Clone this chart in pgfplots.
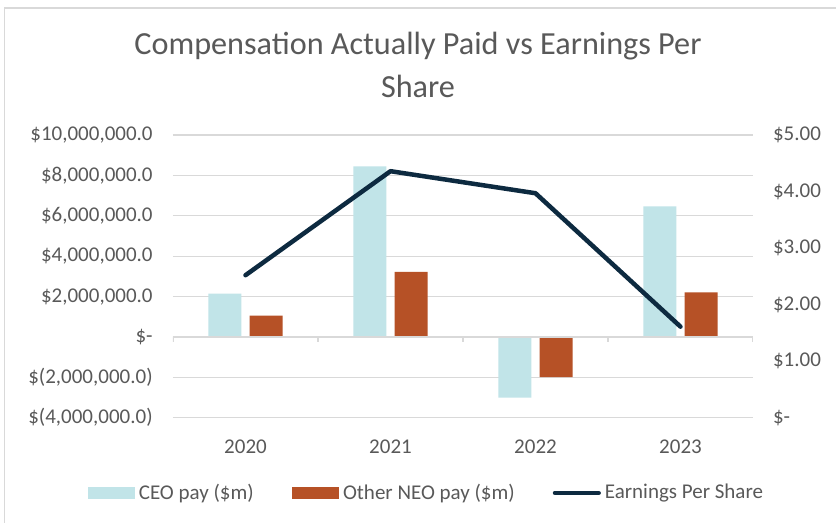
\documentclass[border=0pt]{standalone}
\usepackage{pgfplots}
\pgfplotsset{compat=1.18}
\usepackage{fontspec}
\setmainfont{Carlito}
\definecolor{ceo}{HTML}{C1E4E8}
\definecolor{neo}{HTML}{B65126}
\definecolor{eps}{HTML}{0D2A40}
\definecolor{gridc}{HTML}{D9D9D9}
\definecolor{txt}{HTML}{595959}
\begin{document}
\begin{tikzpicture}
\useasboundingbox (0pt,0pt) rectangle (418pt,-261.5pt);
\fill[white] (0pt,0pt) rectangle (418pt,-261.5pt);
\draw[gridc, line width=0.6pt] (2.25pt,-261.5pt) -- (2.25pt,-4pt) -- (418pt,-4pt);
\node[text=txt, align=center, font=\fontsize{16.1}{21.5}\selectfont] at (209pt,-32.5pt)
  {Compensation Actually Paid vs Earnings Per\\Share};
\begin{axis}[
  at={(86.5pt,-208.85pt)}, anchor=south west,
  scale only axis, width=290pt, height=141.35pt,
  xmin=-0.5, xmax=3.5, ymin=-4000000, ymax=10000000,
  xtick={0,1,2,3}, xticklabels={2020,2021,2022,2023},
  ytick={-4000000,-2000000,0,2000000,4000000,6000000,8000000,10000000},
  yticklabels={{\$(4,000,000.0)},{\$(2,000,000.0)},{\$-},{\$2,000,000.0},{\$4,000,000.0},{\$6,000,000.0},{\$8,000,000.0},{\$10,000,000.0}},
  scaled y ticks=false,
  /pgf/number format/assume math mode=true,
  axis line style={draw=none},
  major tick style={draw=none},
  ymajorgrids, grid style={gridc, line width=0.6pt},
  tick label style={text=txt, font=\fontsize{10.5}{12}\selectfont, inner sep=0pt},
  yticklabel style={anchor=east},
  yticklabel shift=10pt,
  xticklabel style={anchor=north},
  xticklabel shift=6.6pt,
  ybar, bar width=0.2276,
]
\addplot[ybar, bar shift=-0.143, fill=ceo, draw=none] coordinates {(0,2150000) (1,8450000) (2,-3000000) (3,6470000)};
\addplot[ybar, bar shift=0.143, fill=neo, draw=none] coordinates {(0,1060000) (1,3220000) (2,-1990000) (3,2210000)};
\draw[gridc, line width=0.75pt] (axis cs:-0.5,0) -- (axis cs:3.5,0);
\draw[gridc, line width=0.75pt] (axis cs:-0.5,0) -- ++(0pt,-2.5pt);
\draw[gridc, line width=0.75pt] (axis cs:0.5,0) -- ++(0pt,-2.5pt);
\draw[gridc, line width=0.75pt] (axis cs:1.5,0) -- ++(0pt,-2.5pt);
\draw[gridc, line width=0.75pt] (axis cs:2.5,0) -- ++(0pt,-2.5pt);
\draw[gridc, line width=0.75pt] (axis cs:3.5,0) -- ++(0pt,-2.5pt);
\end{axis}
\begin{axis}[
  at={(86.5pt,-208.85pt)}, anchor=south west,
  scale only axis, width=290pt, height=141.35pt,
  xmin=-0.5, xmax=3.5, ymin=0, ymax=5,
  hide x axis,
  axis y line*=right,
  axis line style={draw=none},
  major tick style={draw=none},
  ytick={0,1,2,3,4,5},
  yticklabels={{\$-},{\$1.00},{\$2.00},{\$3.00},{\$4.00},{\$5.00}},
  /pgf/number format/assume math mode=true,
  tick label style={text=txt, font=\fontsize{10.5}{12}\selectfont, inner sep=0pt},
  yticklabel style={anchor=west},
  yticklabel shift=9.85pt,
  legend columns=3,
  legend style={at={(-0.148,-0.266)}, anchor=west, draw=none, fill=none,
    inner sep=0pt, font=\fontsize{10.5}{12}\selectfont, text=txt,
    nodes={inner xsep=2pt, inner ysep=0pt},
    /tikz/every even column/.append style={column sep=17pt}},
]
\addlegendimage{legend image code/.code={\fill[ceo] (0pt,-2.85pt) rectangle (23.25pt,2.85pt);}}
\addlegendentry{CEO pay (\$m)}
\addlegendimage{legend image code/.code={\fill[neo] (0pt,-2.85pt) rectangle (23.25pt,2.85pt);}}
\addlegendentry{Other NEO pay (\$m)}
\addplot[eps, line width=2.25pt, line cap=round, line join=round, mark=none,
  legend image code/.code={\draw[eps, line width=2.25pt, line cap=round] (1.1pt,0pt) -- (22.9pt,0pt);}]
  coordinates {(0,2.52) (1,4.36) (2,3.97) (3,1.61)};
\addlegendentry{Earnings Per Share}
\end{axis}
\end{tikzpicture}
\end{document}
